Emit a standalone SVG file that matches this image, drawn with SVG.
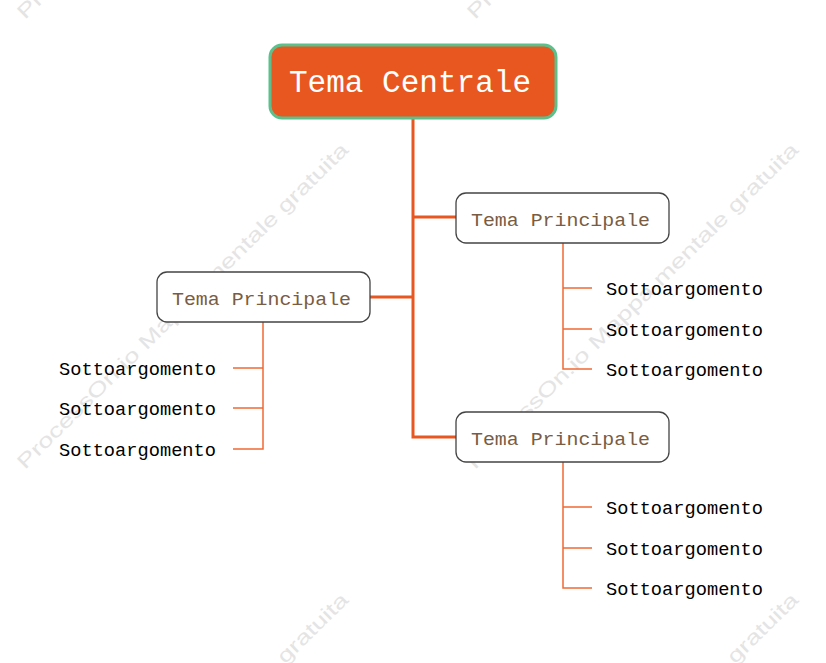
<svg xmlns="http://www.w3.org/2000/svg" width="826" height="663" viewBox="0 0 826 663">
<style>
.wm{font-family:"Liberation Sans",Arial,sans-serif;font-size:20px;fill:#e4e4e4}
.main{stroke:#E8571F;stroke-width:3;fill:none}
.sub{stroke:#EF6A35;stroke-width:1.5;fill:none}
.topic{fill:#fff;stroke:#444;stroke-width:1.3}
.tt{font-family:"Liberation Mono","DejaVu Sans Mono",monospace;font-size:19px;fill:#7A5C42}
.st{font-family:"Liberation Mono","DejaVu Sans Mono",monospace;font-size:19px;fill:#000}
</style>
<rect width="826" height="663" fill="#fff"/>
<g id="watermark">
<text class="wm" transform="translate(25,470) rotate(-44.5)" textLength="455" lengthAdjust="spacingAndGlyphs">ProcessOn.io Mappa mentale gratuita</text>
<text class="wm" transform="translate(475,470) rotate(-44.5)" textLength="455" lengthAdjust="spacingAndGlyphs">ProcessOn.io Mappa mentale gratuita</text>
<text class="wm" transform="translate(25,20) rotate(-44.5)" textLength="455" lengthAdjust="spacingAndGlyphs">ProcessOn.io Mappa mentale gratuita</text>
<text class="wm" transform="translate(475,20) rotate(-44.5)" textLength="455" lengthAdjust="spacingAndGlyphs">ProcessOn.io Mappa mentale gratuita</text>
<text class="wm" transform="translate(25,920) rotate(-44.5)" textLength="455" lengthAdjust="spacingAndGlyphs">ProcessOn.io Mappa mentale gratuita</text>
<text class="wm" transform="translate(475,920) rotate(-44.5)" textLength="455" lengthAdjust="spacingAndGlyphs">ProcessOn.io Mappa mentale gratuita</text>
</g>
<g id="connectors">
<path class="main" d="M413,118 V437 H456 M413,217 H456 M370,297 H413"/>
<path class="sub" d="M563,243 V369 H592 M563,288 H592 M563,329 H592"/>
<path class="sub" d="M563,462 V588 H592 M563,507 H592 M563,548 H592"/>
<path class="sub" d="M263,322 V449 H233 M263,368 H233 M263,408 H233"/>
</g>
<g id="central">
<rect x="270" y="45" width="286" height="73" rx="12" fill="#E8571F" stroke="#5CC08C" stroke-width="3"/>
<text x="289" y="92" font-family="'Liberation Mono','DejaVu Sans Mono',monospace" font-size="31" fill="#fff" textLength="242" lengthAdjust="spacingAndGlyphs">Tema Centrale</text>
</g>
<g id="topic-right-1">
<rect class="topic" x="456" y="193" width="213" height="50" rx="10"/>
<text class="tt" x="471" y="226" textLength="179" lengthAdjust="spacingAndGlyphs">Tema Principale</text>
</g>
<g id="topic-left">
<rect class="topic" x="157" y="272" width="213" height="50" rx="10"/>
<text class="tt" x="172" y="305" textLength="179" lengthAdjust="spacingAndGlyphs">Tema Principale</text>
</g>
<g id="topic-right-2">
<rect class="topic" x="456" y="412" width="213" height="50" rx="10"/>
<text class="tt" x="471" y="445" textLength="179" lengthAdjust="spacingAndGlyphs">Tema Principale</text>
</g>
<g id="sub-r1-1"><text class="st" x="606" y="295" textLength="157" lengthAdjust="spacingAndGlyphs">Sottoargomento</text></g>
<g id="sub-r1-2"><text class="st" x="606" y="336" textLength="157" lengthAdjust="spacingAndGlyphs">Sottoargomento</text></g>
<g id="sub-r1-3"><text class="st" x="606" y="376" textLength="157" lengthAdjust="spacingAndGlyphs">Sottoargomento</text></g>
<g id="sub-l-1"><text class="st" x="59" y="375" textLength="157" lengthAdjust="spacingAndGlyphs">Sottoargomento</text></g>
<g id="sub-l-2"><text class="st" x="59" y="415" textLength="157" lengthAdjust="spacingAndGlyphs">Sottoargomento</text></g>
<g id="sub-l-3"><text class="st" x="59" y="456" textLength="157" lengthAdjust="spacingAndGlyphs">Sottoargomento</text></g>
<g id="sub-r2-1"><text class="st" x="606" y="514" textLength="157" lengthAdjust="spacingAndGlyphs">Sottoargomento</text></g>
<g id="sub-r2-2"><text class="st" x="606" y="555" textLength="157" lengthAdjust="spacingAndGlyphs">Sottoargomento</text></g>
<g id="sub-r2-3"><text class="st" x="606" y="595" textLength="157" lengthAdjust="spacingAndGlyphs">Sottoargomento</text></g>
</svg>
